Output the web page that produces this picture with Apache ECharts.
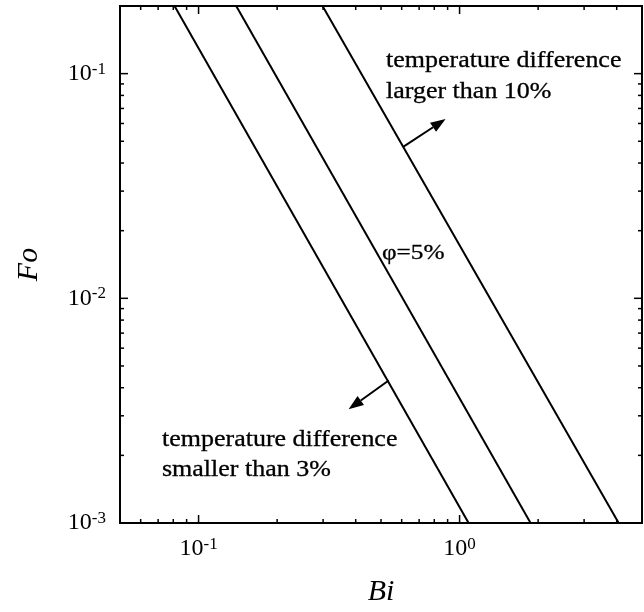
<!DOCTYPE html>
<html>
<head>
<meta charset="utf-8">
<script src="https://cdn.jsdelivr.net/npm/echarts@6/dist/echarts.min.js"></script>
<style>
html,body{margin:0;padding:0;background:#fff;}
#c{width:644px;height:612px;}
</style>
</head>
<body>
<div id="c"></div>
<script>
// ---- data ----
var xRange = [0.05, 5];
var yRange = [0.001, 0.2];
var lineLow = [[0.0809, 0.2], [1.083, 0.001]];     // 3% boundary
var lineMid = [[0.1394, 0.2], [1.871, 0.001]];     // phi = 5%
var lineHigh = [[0.2985, 0.2], [4.07, 0.001]];     // 10% boundary
var xMajorTicks = [0.1, 1];
var xMinorTicks = [0.06, 0.07, 0.08, 0.09, 0.2, 0.3, 0.4, 0.5, 0.6, 0.7, 0.8, 0.9, 2, 3, 4];
var yMajorTicks = [0.001, 0.01, 0.1];
var yMinorTicks = [0.002, 0.003, 0.004, 0.005, 0.006, 0.007, 0.008, 0.009,
                   0.02, 0.03, 0.04, 0.05, 0.06, 0.07, 0.08, 0.09];
var arrowUp = [[0.610, 0.0473], [0.884, 0.0628]];
var arrowDown = [[0.535, 0.00431], [0.3756, 0.00321]];
var textHigh = 'temperature difference\nlarger than 10%';
var textLow = 'temperature difference\nsmaller than 3%';
var textPhi = '\u03c6=5%';
var xName = 'Bi';
var yName = 'Fo';

(function () {
  var SERIF = '"Liberation Serif", "Times New Roman", serif';

  function powLabel(v) {
    var e = Math.log10(v);
    var r = Math.round(e);
    if (Math.abs(e - r) > 1e-6) return '';
    return '{b|10}{s|' + (r < 0 ? '-' + (-r) : '' + r) + '}';
  }
  var richLbl = {
    b: {fontSize: 24, fontFamily: SERIF, color: '#000', lineHeight: 26},
    s: {fontSize: 17, fontFamily: SERIF, color: '#000', lineHeight: 16, verticalAlign: 'top'}
  };

  var chart = echarts.init(document.getElementById('c'), null, {renderer: 'canvas'});
  var option = {
    animation: false,
    backgroundColor: '#fff',
    grid: {left: 120, top: 6, width: 522, height: 522, show: true, borderColor: '#000', borderWidth: 2, backgroundColor: 'transparent'},
    xAxis: {
      type: 'log', logBase: 10, min: xRange[0], max: xRange[1],
      axisLine: {show: false}, axisTick: {show: false}, splitLine: {show: false}, minorTick: {show: false},
      axisLabel: {formatter: powLabel, rich: richLbl, margin: 13, showMinLabel: false, showMaxLabel: false},
      name: xName, nameLocation: 'middle', nameGap: 54,
      nameTextStyle: {fontFamily: SERIF, fontStyle: 'italic', fontSize: 30, color: '#000'}
    },
    yAxis: {
      type: 'log', logBase: 10, min: yRange[0], max: yRange[1],
      axisLine: {show: false}, axisTick: {show: false}, splitLine: {show: false}, minorTick: {show: false},
      axisLabel: {formatter: powLabel, rich: richLbl, margin: 14, showMaxLabel: false},
      name: yName, nameLocation: 'middle', nameGap: 76, nameRotate: 90,
      nameTextStyle: {fontFamily: SERIF, fontStyle: 'italic', fontSize: 30, color: '#000'}
    },
    series: [lineLow, lineMid, lineHigh].map(function (d) {
      return {type: 'line', data: d, symbol: 'none', clip: true,
        lineStyle: {color: '#000', width: 2}, silent: true};
    })
  };
  chart.setOption(option);

  function px(p) { return chart.convertToPixel({gridIndex: 0}, p); }

  var g = [];
  var yTop = px([1, yRange[1]])[1], yBot = px([1, yRange[0]])[1];
  var xLeft = px([xRange[0], 0.01])[0], xRight = px([xRange[1], 0.01])[0];
  function tickLine(x1, y1, x2, y2) {
    g.push({type: 'line', silent: true, shape: {x1: x1, y1: y1, x2: x2, y2: y2}, style: {stroke: '#000', lineWidth: 1.5}});
  }
  function xTicks(vals, len) {
    vals.forEach(function (v) {
      var x = px([v, 0.01])[0];
      tickLine(x, yBot, x, yBot - len);
      tickLine(x, yTop, x, yTop + len);
    });
  }
  function yTicks(vals, len) {
    vals.forEach(function (v) {
      var y = px([1, v])[1];
      tickLine(xLeft, y, xLeft + len, y);
      tickLine(xRight, y, xRight - len, y);
    });
  }
  xTicks(xMajorTicks, 8); xTicks(xMinorTicks, 4);
  yTicks(yMajorTicks, 8); yTicks(yMinorTicks, 4);

  function arrow(a) {
    var p0 = px(a[0]), p1 = px(a[1]);
    var dx = p1[0] - p0[0], dy = p1[1] - p0[1];
    var L = Math.sqrt(dx * dx + dy * dy), ux = dx / L, uy = dy / L;
    var hl = 15, hw = 5.5;
    var bx = p1[0] - ux * hl, by = p1[1] - uy * hl;
    g.push({type: 'line', silent: true, shape: {x1: p0[0], y1: p0[1], x2: bx, y2: by}, style: {stroke: '#000', lineWidth: 2}});
    g.push({type: 'polygon', silent: true, shape: {points: [[p1[0], p1[1]], [bx - uy * hw, by + ux * hw], [bx + uy * hw, by - ux * hw]]}, style: {fill: '#000'}});
  }
  arrow(arrowUp);
  arrow(arrowDown);

  function txt(s, x, y, lh, size, sx) {
    g.push({type: 'text', silent: true, x: x, y: y, scaleX: sx, scaleY: 1,
      style: {text: s, font: size + 'px ' + SERIF, fill: '#000', stroke: '#000', lineWidth: 0.3,
        lineHeight: lh, align: 'left', verticalAlign: 'top'}});
  }
  txt(textHigh, 386, 45.5, 31, 23, 1.13);
  txt(textLow, 162, 424.5, 30, 23, 1.13);
  txt(textPhi, 382, 241, 24, 22, 1.15);

  chart.setOption({graphic: g});
})();
</script>
</body>
</html>
